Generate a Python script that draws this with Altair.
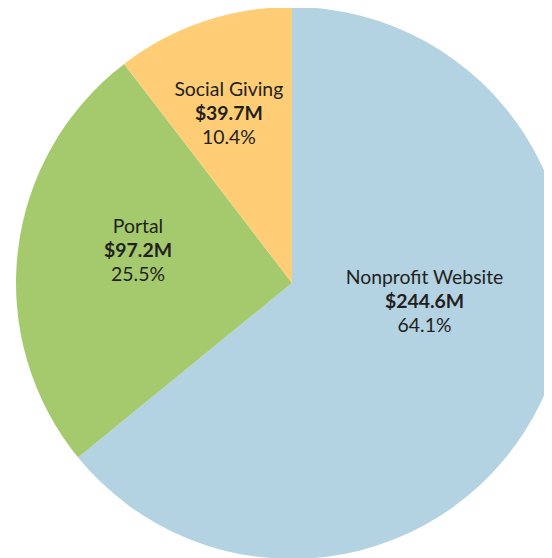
import altair as alt
import pandas as pd

categories = ["Nonprofit Website", "Portal", "Social Giving"]
values_musd = [244.6, 97.2, 39.7]
percents = [64.1, 25.5, 10.4]
colors = ["#b3d2e2", "#a4ca6d", "#fecd75"]

df = pd.DataFrame({
    "category": categories,
    "value": values_musd,
    "pct": percents,
    "order": list(range(len(categories))),
})
total = sum(values_musd)

FONT = "Lato"
SIZE = 19.4
TXT = "#231f20"
CX, CY, R = 284, 275, 276

sc = alt.Scale(domain=[0, total], range=[0, 6.283185307179586])

base = alt.Chart(df).transform_stack(
    stack="value", groupby=[], as_=["v0", "v1"], sort=[alt.SortField("order")]
).transform_calculate(
    mid="(datum.v0 + datum.v1) / 2",
    money="'$' + format(datum.value, '.1f') + 'M'",
    pcttxt="format(datum.pct, '.1f') + '%'",
)

arc = base.mark_arc(strokeWidth=0).encode(
    theta=alt.Theta("v0:Q", scale=sc),
    theta2="v1:Q",
    radius=alt.value(R),
    color=alt.Color("category:N", scale=alt.Scale(domain=categories, range=colors), legend=None),
    x=alt.value(CX),
    y=alt.value(CY),
)

# label nudges (dx, dy) from the mid-angle anchor at radius 150
nudges = {
    "Nonprofit Website": (-3, -45),
    "Portal": (-5, -15),
    "Social Giving": (-15, -27),
}

layers = [arc]
for cat in categories:
    ndx, ndy = nudges[cat]
    sub = base.transform_filter(alt.datum.category == cat)
    for field, off, weight in [("category", -24, "normal"), ("money", 0, "bold"), ("pcttxt", 24, "normal")]:
        layers.append(
            sub.mark_text(
                dx=ndx, dy=ndy + off, font=FONT, fontSize=SIZE,
                fontWeight=weight, color=TXT, baseline="middle", align="center",
            ).encode(
                theta=alt.Theta("mid:Q", scale=sc),
                radius=alt.value(150),
                text=alt.Text(f"{field}:N"),
                x=alt.value(CX),
                y=alt.value(CY),
            )
        )

chart = alt.layer(*layers).properties(
    width=536, height=551, padding=0, autosize=alt.AutoSizeParams(type="none"),
    background="white",
).configure_view(stroke=None)

chart.save("out.html", embed_options={"renderer": "svg", "actions": False})
